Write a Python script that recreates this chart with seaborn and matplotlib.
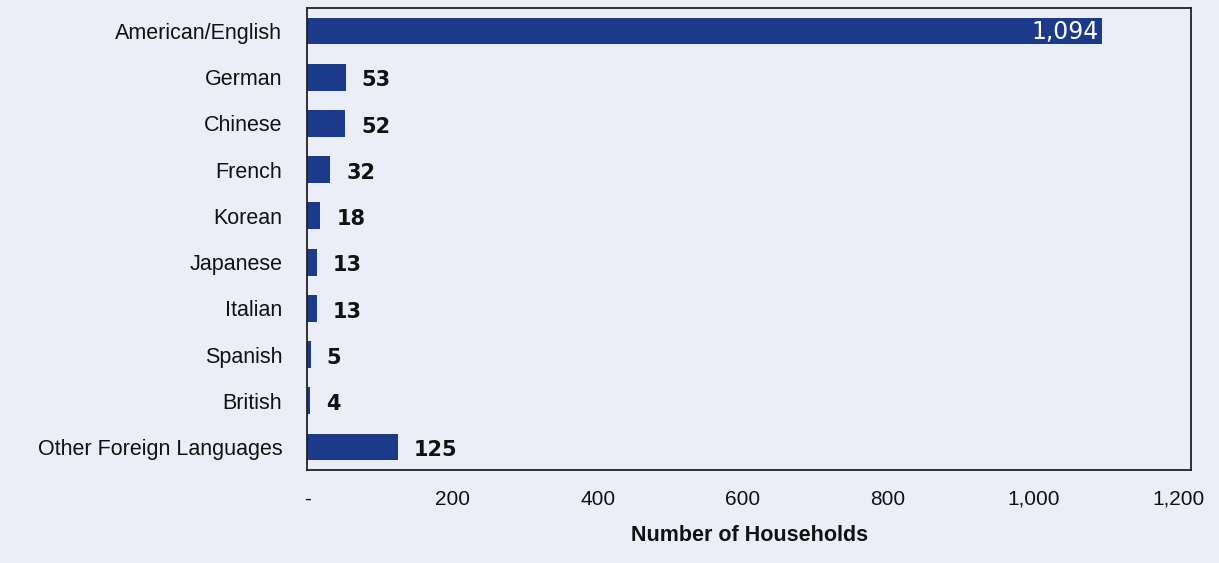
import matplotlib
matplotlib.use("Agg")
import matplotlib.pyplot as plt
import seaborn as sns
import pandas as pd

# data
languages = ["American/English", "German", "Chinese", "French", "Korean",
             "Japanese", "Italian", "Spanish", "British", "Other Foreign Languages"]
households = [1094, 53, 52, 32, 18, 13, 13, 5, 4, 125]
tick_vals = [0, 200, 400, 600, 800, 1000, 1200]
tick_labels = ["-", "200", "400", "600", "800", "1,000", "1,200"]

df = pd.DataFrame({"lang": languages, "n": households})

sns.set_style("white")
plt.rcParams["font.family"] = ["Liberation Sans", "DejaVu Sans"]

bg = "#eceef7"
bar_col = "#1b3a8a"

fig = plt.figure(figsize=(12.19, 5.63), dpi=100, facecolor=bg)
ax = fig.add_axes([0.252, 0.165, 0.725, 0.821])
ax.set_facecolor(bg)

sns.barplot(data=df, x="n", y="lang", color=bar_col, saturation=1,
            width=0.58, ax=ax, orient="h", linewidth=0)

ax.set_xlim(0, 1217)
ax.set_ylim(9.5, -0.5)

# value labels
for i, v in enumerate(households):
    if v > 1000:
        ax.text(v - 4, i + 0.03, f"{v:,}", color="white", ha="right", va="center",
                fontsize=17, family=["DejaVu Sans"])
    else:
        ax.text(v + 22, i + 0.07, f"{v:,}", color="#111111", ha="left", va="center",
                fontsize=15, fontweight="bold", family=["DejaVu Sans"])

ax.set_xticks(tick_vals)
ax.set_xticklabels(tick_labels, fontsize=15, color="#111111")
ax.tick_params(axis="x", length=0, pad=14)
ax.tick_params(axis="y", length=0, pad=18, labelsize=15.5, labelcolor="#111111")
ax.set_ylabel("")
ax.set_xlabel("Number of Households", fontsize=15.5, fontweight="bold",
              labelpad=12, color="#111111")

for s in ax.spines.values():
    s.set_visible(True)
    s.set_color("#222222")
    s.set_linewidth(1.3)

fig.savefig("out.png", dpi=100, facecolor=bg)
